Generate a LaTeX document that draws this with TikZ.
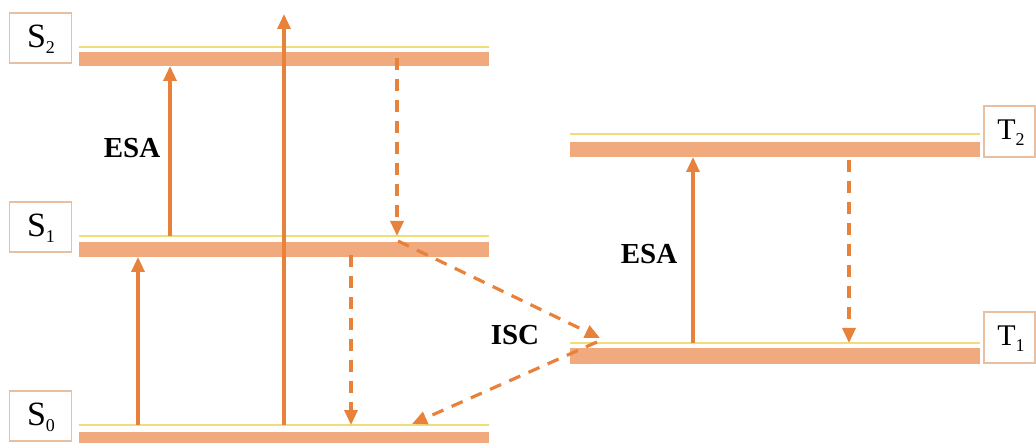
\documentclass[tikz,border=0pt]{standalone}
\usepackage{fontspec}
\setmainfont{Liberation Serif}
\usetikzlibrary{arrows.meta}
\definecolor{barc}{HTML}{F0AA7D}
\definecolor{arrc}{HTML}{E8823A}
\definecolor{ylc}{HTML}{F0DC78}
\definecolor{bxc}{HTML}{E9BFA2}
\begin{document}
\begin{tikzpicture}[x=1pt,y=-1pt,
  lvlbar/.style={fill=barc,draw=none},
  lvlline/.style={draw=ylc,line width=1.4pt},
  statebox/.style={draw=bxc,line width=1.6pt,fill=white,inner sep=0pt},
  upar/.style={draw=arrc,line width=3.2pt,-{Triangle[length=15pt,width=13pt]}},
  dnar/.style={upar,dash pattern=on 12pt off 9pt},
  lbl/.style={font=\fontsize{29}{29}\selectfont\bfseries,inner sep=0pt},
  stxt/.style={font=\fontsize{34}{34}\selectfont},
  ttxt/.style={font=\fontsize{30}{30}\selectfont}]
\useasboundingbox (0,0) rectangle (1036,443);
\clip (0,0) rectangle (1036,443);
\fill[white] (0,0) rectangle (1036,443);
% singlet levels
\draw[lvlline] (79,47) -- (489,47);
\fill[lvlbar] (79,52) rectangle (489,66);
\draw[lvlline] (79,236) -- (489,236);
\fill[lvlbar] (79,242) rectangle (489,257);
\draw[lvlline] (79,425) -- (489,425);
\fill[lvlbar] (79,432) rectangle (489,452);
% triplet levels
\draw[lvlline] (570,134) -- (980,134);
\fill[lvlbar] (570,142) rectangle (980,157);
\draw[lvlline] (570,343) -- (980,343);
\fill[lvlbar] (570,348) rectangle (980,364);
% state boxes
\node[statebox,minimum width=62pt,minimum height=50pt] (S2) at (40.5,38) {};
\node[stxt] (S2t) at (41,39) {S\raisebox{-6pt}{\fontsize{18}{18}\selectfont 2}};
\node[statebox,minimum width=62pt,minimum height=50pt] (S1) at (40.5,227) {};
\node[stxt] (S1t) at (41,228) {S\raisebox{-6pt}{\fontsize{18}{18}\selectfont 1}};
\node[statebox,minimum width=62pt,minimum height=50pt] (S0) at (40.5,416) {};
\node[stxt] (S0t) at (41,417) {S\raisebox{-6pt}{\fontsize{18}{18}\selectfont 0}};
\node[statebox,minimum width=51pt,minimum height=51pt] (T2) at (1009.5,131.5) {};
\node[ttxt] (T2t) at (1011,133) {T\raisebox{-6pt}{\fontsize{18}{18}\selectfont 2}};
\node[statebox,minimum width=51pt,minimum height=51pt] (T1) at (1009.5,337.5) {};
\node[ttxt] (T1t) at (1011,339) {T\raisebox{-6pt}{\fontsize{18}{18}\selectfont 1}};
% arrow end points
\coordinate (a1s) at (170,236); \coordinate (a1e) at (170,66);
\coordinate (a2s) at (284,425); \coordinate (a2e) at (284,14);
\coordinate (a3s) at (138,425); \coordinate (a3e) at (138,257);
\coordinate (d1s) at (397,58);  \coordinate (d1e) at (397,236);
\coordinate (d2s) at (351,255); \coordinate (d2e) at (351,425);
\coordinate (i1s) at (398,241); \coordinate (i1e) at (600,338);
\coordinate (i2s) at (597,342); \coordinate (i2e) at (412,424);
\coordinate (t1s) at (693,343); \coordinate (t1e) at (693,157);
\coordinate (t2s) at (849,160); \coordinate (t2e) at (849,343);
% arrows
\draw[upar] (a1s) -- (a1e);
\draw[upar] (a2s) -- (a2e);
\draw[upar] (a3s) -- (a3e);
\draw[upar] (t1s) -- (t1e);
\draw[dnar] (d1s) -- (d1e);
\draw[dnar] (d2s) -- (d2e);
\draw[dnar] (t2s) -- (t2e);
\draw[dnar] (i1s) -- (i1e);
\draw[dnar] (i2s) -- (i2e);
% labels
\node[lbl] (esa1) at (132,148) {ESA};
\node[lbl] (esa2) at (649,254) {ESA};
\node[lbl] (isc) at (515,335) {ISC};
\end{tikzpicture}
\end{document}
